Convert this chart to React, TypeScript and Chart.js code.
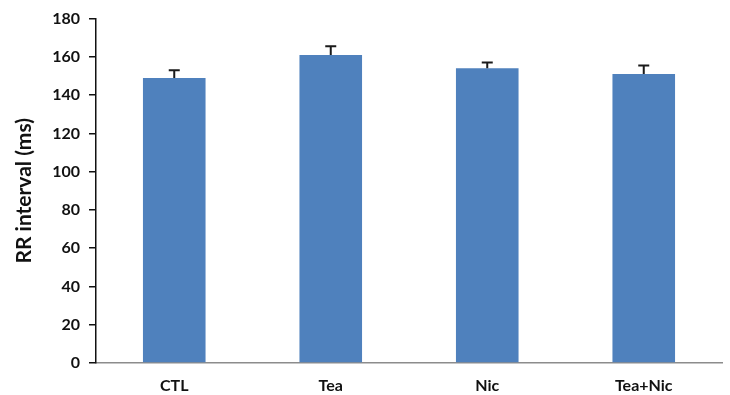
import React, { useEffect, useRef } from "react";
import { Chart, registerables } from "chart.js";

Chart.register(...registerables);

const categories = ["CTL", "Tea", "Nic", "Tea+Nic"];
const rrMeans = [149, 161, 154, 151];
const rrErrors = [4, 4.5, 3, 4.5];
const yTicks = [0, 20, 40, 60, 80, 100, 120, 140, 160, 180];

const FONT = "Lato, 'Liberation Sans', sans-serif";

// Upward-only error bars with a short cap, drawn on top of the bars.
const errorBarPlugin = {
  id: "errorBars",
  afterDatasetsDraw(chart: any) {
    const { ctx, scales } = chart;
    const meta = chart.getDatasetMeta(0);
    const y = scales.y;
    ctx.save();
    ctx.strokeStyle = "#1a1a1a";
    ctx.lineWidth = 2;
    meta.data.forEach((bar: any, i: number) => {
      const x = bar.x;
      const yTop = y.getPixelForValue(rrMeans[i] + rrErrors[i]);
      const yBase = y.getPixelForValue(rrMeans[i]);
      ctx.beginPath();
      ctx.moveTo(x, yBase);
      ctx.lineTo(x, yTop);
      ctx.moveTo(x - 5.5, yTop);
      ctx.lineTo(x + 5.5, yTop);
      ctx.stroke();
    });
    ctx.restore();
  },
};

export default function App() {
  const canvasRef = useRef<HTMLCanvasElement | null>(null);

  useEffect(() => {
    if (!canvasRef.current) return;
    const chart = new Chart(canvasRef.current, {
      type: "bar",
      data: {
        labels: categories,
        datasets: [
          {
            data: rrMeans,
            backgroundColor: "#4F81BD",
            borderWidth: 0,
            barPercentage: 0.4,
            categoryPercentage: 1,
          },
        ],
      },
      options: {
        animation: false,
        responsive: false,
        maintainAspectRatio: false,
        layout: { padding: { top: 15, right: 8, bottom: 0, left: 0 } },
        plugins: {
          legend: { display: false },
          tooltip: { enabled: false },
        },
        scales: {
          x: {
            grid: { display: false, drawTicks: false },
            border: { display: true, color: "#8c8c8c", width: 1.5 },
            ticks: {
              color: "#111",
              padding: 13,
              font: { family: FONT, size: 16, weight: "bold" },
            },
            afterFit(scale: any) {
              scale.height = 32;
            },
          },
          y: {
            min: 0,
            max: 180,
            afterBuildTicks(scale: any) {
              scale.ticks = yTicks.map((v) => ({ value: v }));
            },
            grid: {
              drawOnChartArea: false,
              drawTicks: true,
              tickLength: 7,
              color: "#111",
              lineWidth: 1.5,
            },
            border: { display: true, color: "#111", width: 1.5 },
            ticks: {
              color: "#111",
              padding: 9,
              font: { family: FONT, size: 16, weight: "bold" },
            },
            title: {
              display: true,
              text: "RR interval (ms)",
              color: "#111",
              padding: { top: 12, bottom: 0 },
              font: { family: FONT, size: 21, weight: "bold" },
            },
            afterFit(scale: any) {
              scale.width = 96;
            },
          },
        },
      },
      plugins: [errorBarPlugin],
    });
    return () => chart.destroy();
  }, []);

  return (
    <div style={{ position: "fixed", left: 0, top: 0, width: 730, height: 395, background: "#fff" }}>
      <canvas ref={canvasRef} width={730} height={395} />
    </div>
  );
}
